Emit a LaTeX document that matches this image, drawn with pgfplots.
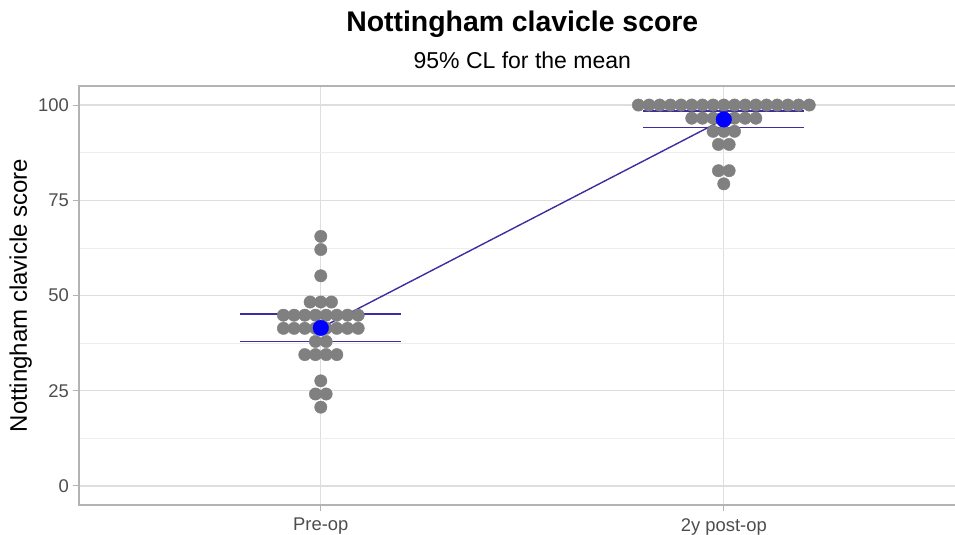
\documentclass[border=0pt]{standalone}
\usepackage{fontspec}
\setmainfont{Liberation Sans}
\usepackage{pgfplots}
\pgfplotsset{compat=1.18}
\usepackage{pgfplotstable}

\definecolor{dotgrey}{HTML}{808080}
\definecolor{meanblue}{HTML}{0000FF}
\definecolor{cilinecol}{HTML}{3C2DA0}
\definecolor{gridmajor}{HTML}{DEDEDE}
\definecolor{gridminor}{HTML}{EDEDED}
\definecolor{bordergrey}{HTML}{B3B3B3}
\definecolor{ticktext}{HTML}{4D4D4D}

% individual scores, stacked into rows like a dot plot
\pgfplotstableread{
x y
1 65.52
1 62.07
1 55.17
0.9735 48.28
1 48.28
1.0265 48.28
0.90725 44.83
0.93375 44.83
0.96025 44.83
0.98675 44.83
1.01325 44.83
1.03975 44.83
1.06625 44.83
1.09275 44.83
0.90725 41.38
0.93375 41.38
0.96025 41.38
0.98675 41.38
1.01325 41.38
1.03975 41.38
1.06625 41.38
1.09275 41.38
0.98675 37.93
1.01325 37.93
0.96025 34.48
0.98675 34.48
1.01325 34.48
1.03975 34.48
1 27.59
0.98675 24.14
1.01325 24.14
1 20.69
}\preop

\pgfplotstableread{
x y
1.788 100
1.8145 100
1.841 100
1.8675 100
1.894 100
1.9205 100
1.947 100
1.9735 100
2 100
2.0265 100
2.053 100
2.0795 100
2.106 100
2.1325 100
2.159 100
2.1855 100
2.212 100
1.9205 96.55
1.947 96.55
1.9735 96.55
2 96.55
2.0265 96.55
2.053 96.55
2.0795 96.55
1.9735 93.10
2 93.10
2.0265 93.10
1.98675 89.66
2.01325 89.66
1.98675 82.76
2.01325 82.76
2 79.31
}\postop

% lower and upper 95% confidence limits of the mean
\pgfplotstableread{
x lo hi
0.8 37.9 45.1
1.2 37.9 45.1
}\preci
\pgfplotstableread{
x lo hi
1.8 94.1 98.4
2.2 94.1 98.4
}\postci

\begin{document}
\begin{tikzpicture}
\begin{axis}[
    at={(0,0)}, anchor=south west,
    scale only axis,
    width=886.6bp, height=419bp,
    xmin=0.4, xmax=2.6,
    ymin=-5, ymax=105,
    xtick={1,2},
    xticklabels={Pre-op, 2y post-op},
    ytick={0,25,50,75,100},
    minor ytick={12.5,37.5,62.5,87.5},
    minor tick length=0pt,
    major tick length=6bp,
    tick align=outside,
    tick pos=left,
    tick style={color=bordergrey, line width=1bp},
    grid=both,
    major grid style={color=gridmajor, line width=1.1bp},
    minor grid style={color=gridminor, line width=0.7bp},
    axis line style={color=bordergrey, line width=1.5bp},
    /pgf/number format/assume math mode=true,
    ticklabel style={font=\fontsize{18.4bp}{22bp}\selectfont, text=ticktext, inner sep=0pt},
    yticklabel style={xshift=-4bp},
    xticklabel style={yshift=-7bp},
    clip=false,
]
\addplot[only marks, mark=*, mark size=6.2bp, color=dotgrey, mark options={draw=none, fill=dotgrey}] table[x=x, y=y] {\preop};
\addplot[only marks, mark=*, mark size=6.2bp, color=dotgrey, mark options={draw=none, fill=dotgrey}] table[x=x, y=y] {\postop};

% confidence limits
\addplot[color=cilinecol, no marks, line width=1.8bp] table[x=x, y=hi] {\preci};
\addplot[color=cilinecol, no marks, line width=1.8bp] table[x=x, y=lo] {\preci};
\addplot[color=cilinecol, no marks, line width=1.8bp] table[x=x, y=hi] {\postci};
\addplot[color=cilinecol, no marks, line width=1.8bp] table[x=x, y=lo] {\postci};

% means
\addplot[color=cilinecol, no marks, line width=1.4bp] coordinates {(1,41.49) (2,96.23)};
\addplot[only marks, mark=*, mark size=7.8bp, color=meanblue, mark options={draw=none, fill=meanblue}] coordinates {(1,41.49) (2,96.23)};
\end{axis}
% titles and axis title (panel spans 0..886.6bp by 0..419bp)
\node[anchor=base, inner sep=0pt, font=\fontsize{28.4bp}{34bp}\selectfont\bfseries] at (443.3bp,473bp) {Nottingham clavicle score};
\node[anchor=base, inner sep=0pt, font=\fontsize{23bp}{27bp}\selectfont] at (443.3bp,436bp) {95\% CL for the mean};
\node[anchor=base, inner sep=0pt, rotate=90, font=\fontsize{24bp}{28bp}\selectfont] at (-52bp,209.5bp) {Nottingham clavicle score};
\pgfresetboundingbox
\path[use as bounding box] (-79bp,-30bp) rectangle (876bp,505bp);
\end{tikzpicture}
\end{document}
